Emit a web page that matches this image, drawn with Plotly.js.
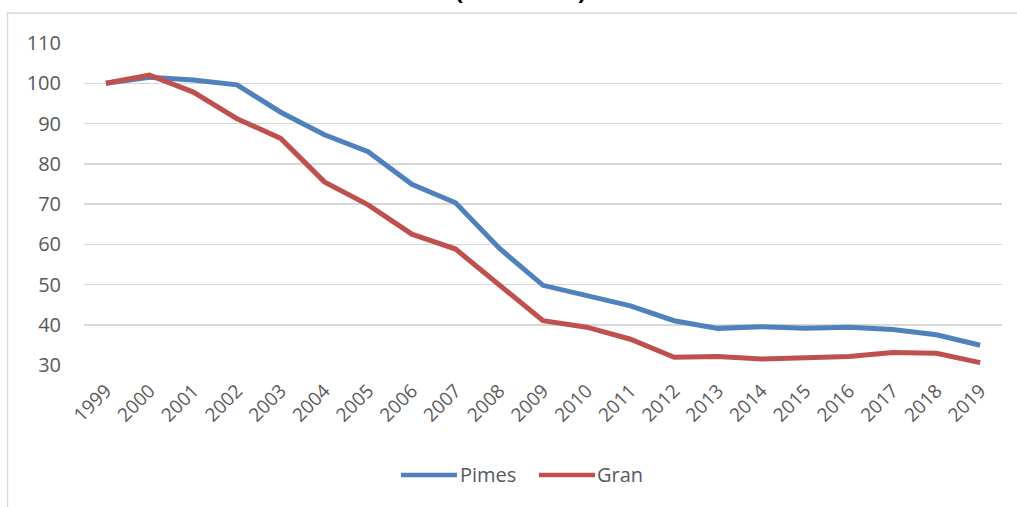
<!DOCTYPE html>
<html>
<head>
<meta charset="utf-8">
<script src="https://cdn.plot.ly/plotly-3.0.1.min.js"></script>
<style>html,body{margin:0;padding:0;background:#fff;}#chart{width:1017px;height:507px;}</style>
</head>
<body>
<div id="chart"></div>
<script>
const years = ['1999','2000','2001','2002','2003','2004','2005','2006','2007','2008','2009','2010','2011','2012','2013','2014','2015','2016','2017','2018','2019'];
const pimes = [100, 101.5, 100.8, 99.6, 92.8, 87.2, 83.0, 74.9, 70.3, 59.0, 49.8, 47.3, 44.7, 41.0, 39.1, 39.5, 39.1, 39.4, 38.8, 37.5, 34.9];
const gran  = [100, 102.0, 97.8, 91.2, 86.3, 75.5, 69.8, 62.5, 58.8, 50.0, 41.0, 39.4, 36.4, 31.9, 32.1, 31.5, 31.8, 32.1, 33.1, 32.9, 30.6];
const titleText = '(2000=100)';
const seriesNames = ['Pimes', 'Gran'];
const colors = ['#4F81BD', '#C0504D'];

const font = "'Open Sans', sans-serif";
const traces = [
  {x: years, y: pimes, name: seriesNames[0], type: 'scatter', mode: 'lines',
   line: {color: colors[0], width: 5, shape: 'linear'}},
  {x: years, y: gran, name: seriesNames[1], type: 'scatter', mode: 'lines',
   line: {color: colors[1], width: 5, shape: 'linear'}}
];
// custom legend (paper coordinates)
const legY = -0.3416;
const legendItems = [
  {x0: 0.3453, x1: 0.4063, tx: 0.4096},
  {x0: 0.4956, x1: 0.5566, tx: 0.5588}
];
const shapes = [
  {type: 'rect', xref: 'paper', yref: 'paper', x0: -0.0833, x1: 1.2, y0: -0.6, y1: 1.093,
   line: {color: '#D9D9D9', width: 1.5}, fillcolor: 'rgba(0,0,0,0)', layer: 'below'}
];
const annotations = [
  {text: '<b>' + titleText + '</b>', xref: 'paper', yref: 'paper', x: 0.475, xanchor: 'center',
   y: 1.108, yanchor: 'bottom', showarrow: false, font: {family: font, size: 25, color: '#000'}}
];
legendItems.forEach((it, i) => {
  shapes.push({type: 'line', xref: 'paper', yref: 'paper', x0: it.x0, x1: it.x1, y0: legY, y1: legY,
               line: {color: colors[i], width: 4.5}});
  annotations.push({text: seriesNames[i], xref: 'paper', yref: 'paper', x: it.tx, xanchor: 'left',
                    y: legY, yanchor: 'middle', showarrow: false, xshift: -2,
                    font: {family: font, size: 20, color: '#595959'}});
});
const layout = {
  width: 1017, height: 507,
  margin: {l: 84, r: 15, t: 43, b: 142},
  paper_bgcolor: '#fff', plot_bgcolor: '#fff',
  showlegend: false,
  xaxis: {type: 'category', range: [-0.5, 20.5], tickangle: -45, showgrid: false, zeroline: false,
          showline: false, ticks: '', ticklabelstandoff: 10,
          tickfont: {family: font, size: 19, color: '#595959'}, fixedrange: true},
  yaxis: {range: [30, 110], dtick: 10, tick0: 30, showgrid: true, gridcolor: '#D9D9D9', gridwidth: 1.5,
          zeroline: false, showline: false, ticks: '', ticklabelstandoff: 22,
          tickfont: {family: font, size: 20, color: '#595959'}, fixedrange: true},
  shapes: shapes,
  annotations: annotations
};
Plotly.newPlot('chart', traces, layout, {displayModeBar: false, staticPlot: true});
</script>
</body>
</html>
